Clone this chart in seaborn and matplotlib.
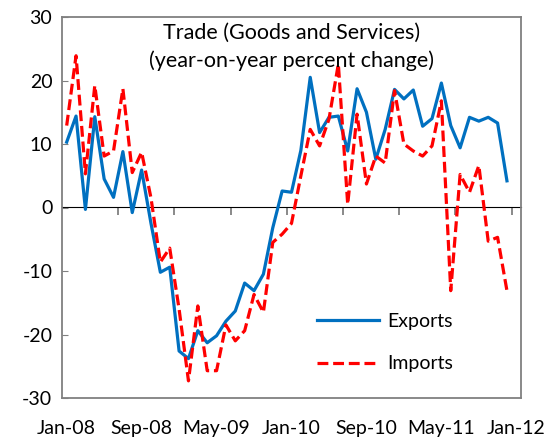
import numpy as np
import pandas as pd
import matplotlib
matplotlib.use("Agg")
import matplotlib.pyplot as plt
import seaborn as sns

# ---- data ----
months = pd.date_range("2008-01-01", periods=48, freq="MS").strftime("%b-%y").tolist()
exports = [10.3, 14.4, -0.3, 14.3, 4.5, 1.6, 8.8, -0.8, 5.9, -2.5,
           -10.2, -9.4, -22.6, -23.8, -19.4, -21.3, -20.2, -17.9, -16.3, -11.9,
           -13.1, -10.5, -3.2, 2.6, 2.4, 9.0, 20.5, 11.8, 14.2, 14.4,
           8.9, 18.7, 15.0, 7.6, 12.3, 18.6, 17.1, 18.5, 12.8, 14.0,
           19.6, 12.9, 9.4, 14.2, 13.6, 14.2, 13.3, 4.2]
imports = [12.9, 23.9, 5.3, 19.2, 8.1, 8.9, 18.7, 5.5, 8.7, 1.5,
           -8.6, -6.4, -16.0, -27.3, -15.5, -25.7, -25.7, -18.5, -21.0, -19.4,
           -13.7, -16.5, -5.5, -4.2, -2.5, 5.0, 12.3, 9.7, 13.9, 22.6,
           0.5, 14.7, 3.7, 8.1, 7.0, 18.4, 10.0, 8.9, 8.1, 9.7,
           16.8, -13.1, 5.2, 2.4, 6.6, -5.3, -4.7, -13.1]
tick_labels = ["Jan-08", "Sep-08", "May-09", "Jan-10", "Sep-10", "May-11", "Jan-12"]
y_ticks = [-30, -20, -10, 0, 10, 20, 30]
title = "Trade (Goods and Services)\n(year-on-year percent change)"

df = pd.DataFrame({"idx": np.arange(len(months)), "month": months,
                   "Exports": exports, "Imports": imports})

FONT = "Lato"
plt.rcParams["font.family"] = [FONT, "DejaVu Sans"]

fig = plt.figure(figsize=(5.52, 4.43), dpi=100)
ax = fig.add_axes([62/552, 45/443, (521-62)/552, (398-17)/443])

sns.lineplot(data=df, x="idx", y="Exports", ax=ax, color="#0070C0",
             linewidth=2.3, label="Exports")
sns.lineplot(data=df, x="idx", y="Imports", ax=ax, color="#FF0000",
             linewidth=2.3, label="Imports", dashes=False)
ax.lines[1].set_dashes((3.4, 1.5))
ax.lines[1].set_dash_capstyle("butt")

ax.set_xlim(-0.5, 48.5)
ax.set_ylim(-30, 30)

# x labels at the bottom, every 8 months
ax.set_xticks([0, 8, 16, 24, 32, 40, 48])
ax.set_xticklabels(tick_labels, fontsize=14)
ax.tick_params(axis="x", length=0, pad=16)

ax.set_yticks(y_ticks)
ax.set_yticklabels([str(v) for v in y_ticks], fontsize=14)
ax.tick_params(axis="y", direction="in", length=4, color="#808080", pad=7)

ax.set_xlabel("")
ax.set_ylabel("")

for s in ax.spines.values():
    s.set_color("#808080")
    s.set_linewidth(1.3)

# zero line with tick marks between categories
sec = ax.secondary_xaxis(0.5)
sec.set_xticks(np.arange(5.5, 48, 6))
sec.set_xticklabels([])
sec.tick_params(axis="x", direction="in", length=6, color="#808080", width=1.3)
sec.spines["bottom"].set_color("#808080")
sec.spines["bottom"].set_linewidth(1.3)

ax.text(0.5, 0.985, title, transform=ax.transAxes, ha="center", va="top",
        fontsize=15.5, linespacing=1.45)

leg = ax.legend(loc="center left", bbox_to_anchor=(0.517, 0.145), frameon=False,
                fontsize=14, handlelength=3.2, handletextpad=0.4, labelspacing=1.3)

fig.savefig("out.png", dpi=100)
